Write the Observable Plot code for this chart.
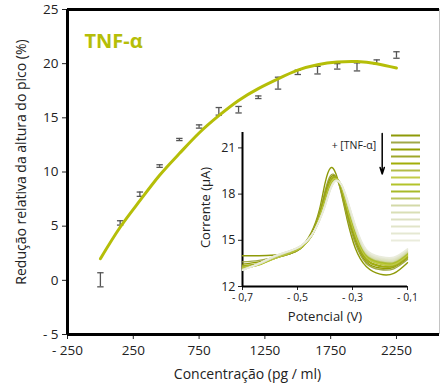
<!DOCTYPE html>
<html><head><meta charset="utf-8">
<script src="https://cdn.jsdelivr.net/npm/d3@7"></script>
<script src="https://cdn.jsdelivr.net/npm/@observablehq/plot@0.6"></script>
<style>
body{margin:0;background:#fff;font-family:"Open Sans",sans-serif;}
#wrap{position:relative;width:441px;height:385px;overflow:hidden;}
#wrap svg{position:absolute;}
</style></head><body><div id="wrap"></div>
<script>
// ---- main chart data ----
const conc = [0,150,300,450,600,750,900,1050,1200,1350,1500,1650,1800,1950,2100,2250];
const reduction = [0.05,5.3,7.95,10.55,13.0,14.2,15.6,15.75,16.9,18.2,19.2,19.4,19.75,19.7,20.15,20.8];
const errs = [0.65,0.2,0.2,0.12,0.1,0.15,0.35,0.3,0.12,0.55,0.2,0.35,0.25,0.37,0.2,0.3];
const fitConc = [0,150,300,450,600,750,900,1050,1200,1350,1500,1650,1800,1950,2100,2250];
const fitValue = [2.0,4.9,7.35,9.7,11.7,13.6,15.2,16.6,17.7,18.6,19.4,19.9,20.15,20.2,20.0,19.6];
const xTicks = [-250,250,750,1250,1750,2250];
const yTicks = [-5,0,5,10,15,20,25];
const xDomain = [-250,2577];
const yDomain = [-5,25];

// ---- inset data ----
const potentials = [-0.7,-0.64,-0.58,-0.53,-0.49,-0.45,-0.42,-0.4,-0.38,-0.36,-0.34,-0.32,-0.29,-0.25,-0.2,-0.15,-0.1];
const currents = [
 [14.0,14.0,14.05,14.15,14.5,15.5,17.0,18.7,19.7,19.3,18.0,16.4,14.5,13.3,12.8,12.85,13.55],
 [13.6,13.7,13.9,14.1,14.45,15.4,16.8,18.2,19.2,19.1,18.1,16.6,14.8,13.5,13.1,13.15,13.75],
 [13.45,13.6,13.85,14.1,14.45,15.35,16.7,18.0,19.05,19.1,18.25,16.8,15.0,13.6,13.2,13.25,13.85],
 [13.35,13.5,13.85,14.1,14.45,15.3,16.6,17.85,18.9,19.1,18.35,16.95,15.15,13.7,13.3,13.3,13.9],
 [13.3,13.45,13.85,14.15,14.5,15.3,16.55,17.7,18.8,19.05,18.4,17.05,15.25,13.8,13.35,13.35,13.95],
 [13.25,13.45,13.85,14.15,14.5,15.25,16.5,17.6,18.7,19.0,18.45,17.15,15.35,13.9,13.45,13.4,14.0],
 [13.2,13.4,13.85,14.2,14.5,15.25,16.45,17.5,18.6,19.0,18.5,17.25,15.45,13.95,13.5,13.45,14.05],
 [13.2,13.4,13.9,14.2,14.55,15.25,16.4,17.45,18.55,18.95,18.5,17.3,15.55,14.0,13.55,13.5,14.1],
 [13.15,13.45,13.9,14.25,14.55,15.25,16.4,17.4,18.5,18.95,18.55,17.4,15.6,14.05,13.6,13.55,14.15],
 [13.15,13.45,13.9,14.25,14.55,15.25,16.35,17.35,18.45,18.9,18.55,17.45,15.7,14.1,13.65,13.6,14.2],
 [13.1,13.45,13.95,14.25,14.6,15.25,16.35,17.3,18.4,18.9,18.6,17.5,15.75,14.15,13.7,13.65,14.25],
 [13.1,13.45,13.95,14.3,14.6,15.25,16.3,17.3,18.4,18.9,18.6,17.55,15.8,14.2,13.75,13.7,14.3],
 [13.1,13.5,13.95,14.3,14.6,15.3,16.3,17.25,18.35,18.88,18.6,17.6,15.85,14.25,13.8,13.75,14.35],
 [13.05,13.5,14.0,14.3,14.6,15.3,16.3,17.25,18.35,18.87,18.6,17.65,15.9,14.3,13.85,13.8,14.4],
 [13.05,13.5,14.0,14.3,14.6,15.3,16.3,17.2,18.3,18.86,18.6,17.7,15.95,14.35,13.9,13.85,14.4],
 [13.05,13.5,14.0,14.3,14.6,15.3,16.3,17.2,18.3,18.85,18.6,17.7,16.0,14.4,13.95,13.9,14.45]
];
const seriesColors = ["#8e9a08","#a0a848","#939e00","#9ea72a","#a2ae08","#b3bc48","#c3cc48","#b3c32a","#a8ba28","#bac55c","#d3d9a8","#d9dfb6","#dde1c2","#e1e4c9","#e5e8d2","#eaecdc"];
const insetXTicks = [-0.7,-0.5,-0.3,-0.1];
const insetYTicks = [12,15,18,21];
const arrowNote = [{v:-0.192, from:21.93, to:19.3}];
const noteText = [{v:-0.214, i:21.12, label:"+ [TNF-α]"}];

const mainColor = "#b5be08";
const fmtSigned = d => d < 0 ? "- " + (-d) : String(d);
const fmtComma = d => (d < 0 ? "- " : "") + Math.abs(d).toFixed(1).replace(".", ",");

const points = conc.map((c,i) => ({c, r: reduction[i], e: errs[i]}));
const fit = fitConc.map((c,i) => ({c, r: fitValue[i]}));
const capSymbol = {draw(ctx, size){ const r = Math.sqrt(size/Math.PI); ctx.moveTo(-r,0); ctx.lineTo(r,0); }};

const wrap = document.getElementById("wrap");

const main = Plot.plot({
  width:441, height:385, marginLeft:67, marginRight:2, marginTop:9, marginBottom:51,
  style:{background:"transparent", fontFamily:"'Open Sans', sans-serif", fontSize:"13.5px", color:"#222", overflow:"visible"},
  x:{domain:xDomain}, y:{domain:yDomain},
  marks:[
    Plot.ruleX([xDomain[1]], {stroke:"#c4c4c4", strokeWidth:1}),
    Plot.axisX({ticks:xTicks, tickFormat:fmtSigned, tickSize:5, tickPadding:6, label:null, fontSize:13.5}),
    Plot.axisY({ticks:yTicks, tickFormat:fmtSigned, tickSize:5, tickPadding:4, label:null, fontSize:13.5}),
    Plot.text(["Concentração (pg / ml)"], {frameAnchor:"bottom", dx:-6, dy:44, fontSize:14, fill:"#222"}),
    Plot.text(["Redução relativa da altura do pico (%)"], {frameAnchor:"left", textAnchor:"middle", dx:-46, dy:-10, rotate:-90, fontSize:14, fill:"#222"}),
    Plot.ruleY([yDomain[1]], {stroke:"#000", strokeWidth:3}),
    Plot.ruleY([yDomain[0]], {stroke:"#000", strokeWidth:3}),
    Plot.ruleX([xDomain[0]], {stroke:"#000", strokeWidth:3}),
    Plot.ruleX(points, {x:"c", y1:d=>d.r-d.e, y2:d=>d.r+d.e, stroke:"#555", strokeWidth:1.3}),
    Plot.dot(points, {x:"c", y:d=>d.r-d.e, symbol:capSymbol, r:3.2, stroke:"#555", strokeWidth:1.3, fill:"none"}),
    Plot.dot(points, {x:"c", y:d=>d.r+d.e, symbol:capSymbol, r:3.2, stroke:"#555", strokeWidth:1.3, fill:"none"}),
    Plot.line(fit, {x:"c", y:"r", curve:"natural", stroke:mainColor, strokeWidth:3}),
    Plot.text(["TNF-α"], {frameAnchor:"top-left", dx:17, dy:24, textAnchor:"start", fontWeight:"bold", fontSize:20, fill:mainColor})
  ]
});
main.style.left = "0px"; main.style.top = "0px";
wrap.appendChild(main);

const insetData = currents.flatMap((row,k) => row.map((i,j) => ({k, v: potentials[j], i, col: seriesColors[k]})));

const inset = Plot.plot({
  width:240, height:215, marginLeft:52, marginRight:23, marginTop:12, marginBottom:49,
  style:{background:"transparent", fontFamily:"'Open Sans', sans-serif", fontSize:"12px", color:"#222", overflow:"visible"},
  x:{domain:[-0.7,-0.1]}, y:{domain:[12,22]}, color:{type:"identity"},
  marks:[
    Plot.axisX({ticks:insetXTicks, tickFormat:fmtComma, tickSize:4, tickPadding:3, label:null, fontSize:10.5}),
    Plot.axisY({ticks:insetYTicks, tickSize:4, tickPadding:3, label:null, fontSize:12.5}),
    Plot.text(["Potencial (V)"], {frameAnchor:"bottom", dy:34, fontSize:13, fill:"#222"}),
    Plot.text(["Corrente (µA)"], {frameAnchor:"left", textAnchor:"middle", dx:-37, dy:-2, rotate:-90, fontSize:13, fill:"#222"}),
    Plot.ruleX([-0.7], {stroke:"#000", strokeWidth:2}),
    Plot.ruleY([12], {stroke:"#000", strokeWidth:2}),
    Plot.line(insetData, {x:"v", y:"i", z:"k", stroke:"col", strokeWidth:1.4, curve:"natural"}),
    Plot.arrow(arrowNote, {x1:"v", x2:"v", y1:"from", y2:"to", stroke:"#000", strokeWidth:1.5, headLength:7, headAngle:35}),
    Plot.text(noteText, {x:"v", y:"i", text:"label", textAnchor:"end", fontSize:10.5, fill:"#222"})
  ]
});
inset.style.left = "190px"; inset.style.top = "120px";
wrap.appendChild(inset);

const legend = Plot.plot({
  width:36, height:114, marginLeft:3, marginRight:4, marginTop:4, marginBottom:5,
  style:{background:"transparent", overflow:"visible"},
  y:{type:"point", domain:conc, axis:null, padding:0}, color:{type:"identity"},
  marks:[
    Plot.tickY(conc, {y:d=>d, stroke:(d,i)=>seriesColors[i], strokeWidth:2})
  ]
});
legend.style.left = "388px"; legend.style.top = "131px";
wrap.appendChild(legend);
</script></body></html>
